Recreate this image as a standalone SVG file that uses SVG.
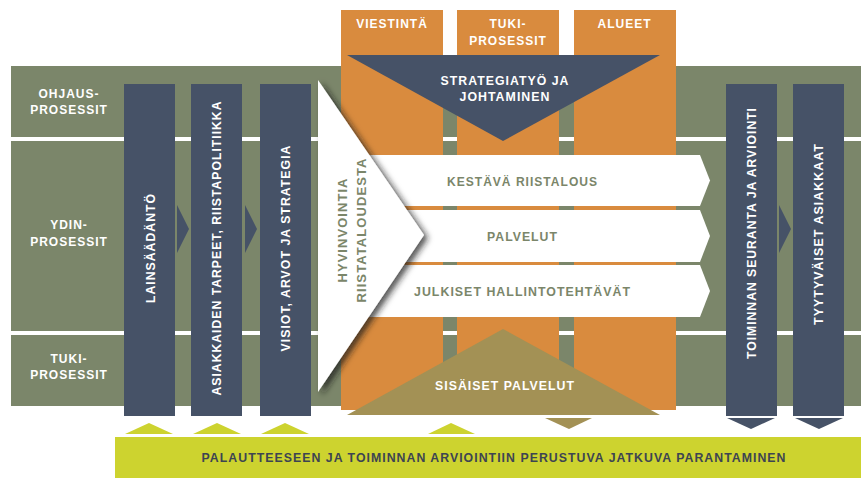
<svg xmlns="http://www.w3.org/2000/svg" width="861" height="478" viewBox="0 0 861 478">
<defs>
<style>
.t{font-family:"Liberation Sans",Arial,sans-serif;font-weight:bold;font-size:12px;letter-spacing:1px}
.w{fill:#ffffff}
.g{fill:#7b866a}
.d{fill:#3d4452}
.col{fill:#465267}
.band{fill:#7b866a}
.or{fill:#d98b3e}
.arr{fill:#ffffff}
.yl{fill:#cdd32f}
</style>
<filter id="sh" x="-20%" y="-20%" width="150%" height="150%">
<feDropShadow dx="4" dy="3" stdDeviation="3" flood-color="#1a1a1a" flood-opacity="0.75"/>
</filter>
</defs>

<g id="background">
<rect class="band" x="11" y="66" width="850" height="340"/>
<rect class="w" x="11" y="137" width="850" height="4"/>
<rect class="w" x="11" y="331" width="850" height="4"/>
</g>

<g id="row-labels">
<text class="t w" text-anchor="middle" x="69" y="98">OHJAUS-</text>
<text class="t w" text-anchor="middle" x="69" y="114">PROSESSIT</text>
<text class="t w" text-anchor="middle" x="69" y="229">YDIN-</text>
<text class="t w" text-anchor="middle" x="69" y="246">PROSESSIT</text>
<text class="t w" text-anchor="middle" x="69" y="363">TUKI-</text>
<text class="t w" text-anchor="middle" x="69" y="379">PROSESSIT</text>
</g>

<g id="viestinta">
<rect class="or" x="341" y="10" width="102" height="400"/>
<text class="t w" text-anchor="middle" x="392" y="28">VIESTINTÄ</text>
</g>
<g id="tukiprosessit">
<rect class="or" x="457" y="10" width="102" height="400"/>
<text class="t w" text-anchor="middle" x="508" y="28">TUKI-</text>
<text class="t w" text-anchor="middle" x="508" y="45">PROSESSIT</text>
</g>
<g id="alueet">
<rect class="or" x="574" y="10" width="102" height="400"/>
<text class="t w" text-anchor="middle" x="624.5" y="28">ALUEET</text>
</g>

<g id="strategiatyo">
<polygon fill="#465267" points="347,55 660,55 503,141"/>
<text class="t w" text-anchor="middle" x="505" y="85" textLength="129" lengthAdjust="spacingAndGlyphs">STRATEGIATYÖ JA</text>
<text class="t w" text-anchor="middle" x="505" y="101" textLength="91" lengthAdjust="spacingAndGlyphs">JOHTAMINEN</text>
</g>

<g id="kestava">
<polygon class="arr" points="360,155 700,155 710,180.5 700,206 360,206"/>
<text class="t g" text-anchor="middle" x="522.5" y="185.5" textLength="151" lengthAdjust="spacingAndGlyphs">KESTÄVÄ RIISTALOUS</text>
</g>
<g id="palvelut">
<polygon class="arr" points="360,210 700,210 710,236 700,262 360,262"/>
<text class="t g" text-anchor="middle" x="522.5" y="241" textLength="71" lengthAdjust="spacingAndGlyphs">PALVELUT</text>
</g>
<g id="julkiset">
<polygon class="arr" points="360,265 700,265 710,291 700,317 360,317"/>
<text class="t g" text-anchor="middle" x="522.5" y="296" textLength="217" lengthAdjust="spacingAndGlyphs">JULKISET HALLINTOTEHTÄVÄT</text>
</g>

<g id="sisaiset">
<polygon fill="#a39155" points="347,415 660,415 503,329"/>
<text class="t w" text-anchor="middle" x="505" y="390" textLength="140" lengthAdjust="spacingAndGlyphs">SISÄISET PALVELUT</text>
</g>

<g id="hyvinvointia">
<polygon fill="#ffffff" filter="url(#sh)" points="318,80 424,235 318,392"/>
<text class="t g" font-size="13" text-anchor="middle" transform="translate(347,230) rotate(-90)" textLength="105" lengthAdjust="spacingAndGlyphs">HYVINVOINTIA</text>
<text class="t g" font-size="13" text-anchor="middle" transform="translate(366,230) rotate(-90)" textLength="145" lengthAdjust="spacingAndGlyphs">RIISTATALOUDESTA</text>
</g>

<g id="lainsaadanto">
<rect class="col" x="124" y="84" width="51" height="332"/>
<text class="t w" text-anchor="middle" transform="translate(155,248) rotate(-90)" textLength="110" lengthAdjust="spacingAndGlyphs">LAINSÄÄDÄNTÖ</text>
</g>
<g id="asiakkaiden">
<rect class="col" x="191" y="84" width="51" height="332"/>
<text class="t w" text-anchor="middle" transform="translate(221,248) rotate(-90)" textLength="295" lengthAdjust="spacingAndGlyphs">ASIAKKAIDEN TARPEET, RIISTAPOLITIIKKA</text>
</g>
<g id="visiot">
<rect class="col" x="260" y="84" width="51" height="332"/>
<text class="t w" text-anchor="middle" transform="translate(290,248) rotate(-90)" textLength="207" lengthAdjust="spacingAndGlyphs">VISIOT, ARVOT JA STRATEGIA</text>
</g>
<g id="toiminnan">
<rect class="col" x="726" y="84" width="51" height="332"/>
<polygon class="col" points="727,418 775,418 751,429"/>
<text class="t w" text-anchor="middle" transform="translate(756,233) rotate(-90)" textLength="252" lengthAdjust="spacingAndGlyphs">TOIMINNAN SEURANTA JA ARVIOINTI</text>
</g>
<g id="tyytyvaiset">
<rect class="col" x="793" y="84" width="51" height="332"/>
<polygon class="col" points="795,418 843,418 819,429"/>
<text class="t w" text-anchor="middle" transform="translate(823,234) rotate(-90)" textLength="182" lengthAdjust="spacingAndGlyphs">TYYTYVÄISET ASIAKKAAT</text>
</g>

<g id="parantaminen">
<rect class="yl" x="115" y="437" width="746" height="41"/>
<text class="t d" text-anchor="middle" x="494" y="462" textLength="585" lengthAdjust="spacingAndGlyphs">PALAUTTEESEEN JA TOIMINNAN ARVIOINTIIN PERUSTUVA JATKUVA PARANTAMINEN</text>
</g>

<g id="connectors">
<polygon class="col" points="177,205 189,229 177,253"/>
<polygon class="col" points="245,205 257,229 245,253"/>
<polygon class="col" points="779,205 791,229 779,253"/>
<polygon fill="#a39155" points="545,418 592,418 569,429"/>
<polygon class="yl" points="125,434 173,434 149,423"/>
<polygon class="yl" points="193,434 241,434 217,423"/>
<polygon class="yl" points="261,434 309,434 285,423"/>
<polygon class="yl" points="428,434 475,434 451,423"/>
</g>
</svg>
